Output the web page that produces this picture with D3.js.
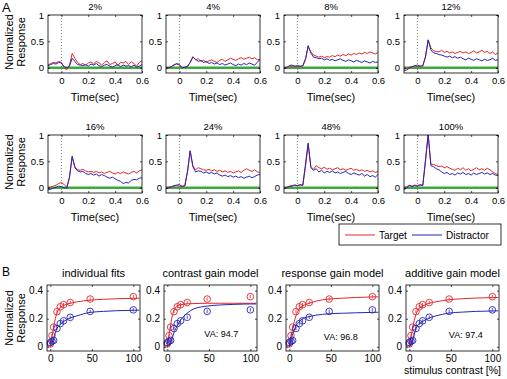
<!DOCTYPE html>
<meta charset="utf-8">
<style>
  body { margin: 0; background: #fff; }
  text { font-family: "Liberation Sans", Arial, sans-serif; fill: #000; }
</style>
<body>
<script src="https://d3js.org/d3.v7.min.js"></script>
<script>
  // ---- panel A: time courses ----
  var times = [-0.1, -0.08, -0.06, -0.04, -0.02, 0, 0.02, 0.04, 0.06, 0.08, 0.1, 0.12,
    0.14, 0.16, 0.18, 0.2, 0.22, 0.24, 0.26, 0.28, 0.3, 0.32, 0.34, 0.36,
    0.38, 0.4, 0.42, 0.44, 0.46, 0.48, 0.5, 0.52, 0.54, 0.56, 0.58, 0.6];

  var contrastLabels = ["2%", "4%", "8%", "12%", "16%", "24%", "48%", "100%"];

  var targetTraces = [
    [0.05,0.08,0.10,0.09,0.12,0.10,0.0,-0.04,0.05,0.27,0.18,0.10,0.06,0.08,0.04,0.09,0.11,0.07,0.12,0.09,0.05,0.10,0.13,0.06,0.08,0.11,0.04,0.10,0.09,0.12,0.06,0.11,0.08,0.03,0.10,0.13],
    [0.0,-0.01,0.02,0.06,0.07,0.05,0.0,0.01,0.03,0.10,0.21,0.15,0.17,0.12,0.14,0.10,0.13,0.15,0.12,0.10,0.14,0.16,0.12,0.15,0.18,0.16,0.14,0.17,0.19,0.16,0.18,0.20,0.17,0.19,0.15,0.16],
    [0.0,0.01,0.02,0.03,0.02,0.03,0.02,0.03,0.15,0.40,0.30,0.24,0.22,0.20,0.22,0.19,0.21,0.20,0.23,0.21,0.24,0.22,0.25,0.23,0.26,0.24,0.27,0.25,0.28,0.26,0.29,0.27,0.30,0.28,0.26,0.29],
    [-0.03,-0.01,0.01,0.02,0.03,0.02,0.03,0.03,0.2,0.52,0.38,0.32,0.31,0.30,0.33,0.29,0.31,0.28,0.30,0.27,0.29,0.31,0.28,0.30,0.27,0.29,0.32,0.28,0.30,0.33,0.29,0.31,0.27,0.30,0.25,0.28],
    [0.0,0.01,0.03,0.05,0.08,0.10,0.06,0.01,0.2,0.58,0.40,0.34,0.33,0.35,0.32,0.30,0.31,0.29,0.31,0.28,0.30,0.27,0.29,0.31,0.28,0.26,0.29,0.27,0.30,0.28,0.26,0.29,0.31,0.28,0.32,0.34],
    [0.0,0.01,0.02,0.03,0.04,0.03,0.02,0.03,0.3,0.70,0.42,0.34,0.38,0.36,0.34,0.33,0.35,0.32,0.34,0.31,0.33,0.30,0.32,0.29,0.31,0.28,0.30,0.32,0.29,0.33,0.36,0.33,0.31,0.34,0.30,0.29],
    [0.0,0.01,0.03,0.04,0.05,0.04,0.05,0.04,0.4,0.82,0.40,0.35,0.42,0.38,0.36,0.39,0.35,0.37,0.34,0.36,0.38,0.34,0.36,0.33,0.35,0.37,0.33,0.35,0.32,0.34,0.31,0.33,0.30,0.32,0.29,0.31],
    [0.0,0.02,0.04,0.03,0.05,0.04,0.06,0.05,0.5,1.0,0.45,0.44,0.42,0.40,0.41,0.38,0.40,0.37,0.35,0.33,0.37,0.34,0.38,0.33,0.36,0.32,0.35,0.38,0.34,0.36,0.33,0.37,0.34,0.30,0.27,0.25]
  ];

  var distractorTraces = [
    [0.04,0.06,0.08,0.07,0.10,0.09,0.02,0.0,0.03,0.18,0.12,0.06,0.05,0.04,0.06,0.03,0.07,0.05,0.08,0.04,0.02,0.05,0.06,0.03,0.01,0.04,0.06,0.02,0.05,0.03,0.04,0.02,0.05,0.01,0.03,0.06],
    [0.0,0.0,0.02,0.05,0.08,0.06,0.0,0.01,0.02,0.10,0.20,0.16,0.12,0.14,0.10,0.12,0.08,0.10,0.07,0.09,0.06,0.08,0.05,0.07,0.09,0.06,0.04,0.07,0.05,0.08,0.06,0.09,0.07,0.05,0.10,0.16],
    [-0.01,0.0,0.04,0.05,0.03,0.04,0.03,0.04,0.17,0.42,0.28,0.20,0.19,0.17,0.18,0.15,0.17,0.14,0.16,0.13,0.15,0.17,0.14,0.12,0.15,0.13,0.11,0.14,0.12,0.10,0.13,0.11,0.09,0.12,0.10,0.11],
    [-0.06,-0.04,-0.01,0.02,0.04,0.05,0.03,0.04,0.21,0.53,0.34,0.28,0.27,0.25,0.24,0.22,0.20,0.22,0.19,0.21,0.18,0.20,0.17,0.15,0.18,0.16,0.14,0.17,0.15,0.13,0.16,0.14,0.15,0.18,0.14,0.15],
    [-0.04,-0.03,-0.01,0.01,0.03,0.02,0.0,-0.01,0.2,0.60,0.38,0.32,0.30,0.31,0.27,0.25,0.27,0.24,0.26,0.22,0.25,0.23,0.20,0.18,0.20,0.17,0.14,0.12,0.08,0.10,0.09,0.14,0.16,0.15,0.18,0.19],
    [-0.02,0.0,0.02,0.04,0.05,0.06,0.03,0.04,0.31,0.70,0.40,0.30,0.32,0.31,0.28,0.30,0.27,0.29,0.26,0.28,0.24,0.22,0.24,0.21,0.23,0.20,0.22,0.19,0.21,0.18,0.20,0.22,0.19,0.21,0.24,0.25],
    [-0.01,0.0,0.02,0.03,0.05,0.04,0.06,0.05,0.45,0.85,0.38,0.33,0.36,0.30,0.33,0.28,0.31,0.29,0.32,0.28,0.30,0.27,0.29,0.31,0.27,0.25,0.28,0.26,0.24,0.27,0.22,0.25,0.21,0.23,0.20,0.25],
    [-0.03,-0.01,0.05,0.02,0.04,0.03,0.05,0.04,0.53,1.02,0.42,0.40,0.36,0.34,0.30,0.27,0.29,0.25,0.27,0.24,0.28,0.26,0.29,0.25,0.27,0.24,0.28,0.25,0.27,0.29,0.26,0.28,0.25,0.27,0.24,0.23]
  ];

  // ---- panel B: contrast response ----
  var contrasts = [0, 2, 4, 8, 12, 16, 24, 48, 100];
  var targetMeans = [0.02, 0.08, 0.14, 0.25, 0.285, 0.30, 0.315, 0.34, 0.357];
  var distractorMeans = [0.03, 0.04, 0.045, 0.13, 0.165, 0.185, 0.21, 0.252, 0.263];

  var fitX = [0, 2, 4, 6, 8, 12, 16, 24, 32, 48, 64, 80, 100, 107];
  var modelTitles = ["individual fits", "contrast gain model", "response gain model", "additive gain model"];
  var modelVA = [null, "VA: 94.7", "VA: 96.8", "VA: 97.4"];
  var targetFits = [
    [0.0, 0.07, 0.14, 0.20, 0.24, 0.28, 0.295, 0.31, 0.32, 0.332, 0.338, 0.342, 0.345, 0.346],
    [0.0, 0.08, 0.16, 0.22, 0.26, 0.29, 0.30, 0.306, 0.308, 0.31, 0.31, 0.31, 0.31, 0.31],
    [0.0, 0.07, 0.13, 0.18, 0.22, 0.27, 0.29, 0.31, 0.325, 0.34, 0.346, 0.351, 0.355, 0.356],
    [0.0, 0.07, 0.13, 0.19, 0.23, 0.275, 0.29, 0.31, 0.32, 0.335, 0.342, 0.347, 0.35, 0.351]
  ];
  var distractorFits = [
    [0.02, 0.03, 0.06, 0.10, 0.13, 0.16, 0.18, 0.205, 0.22, 0.245, 0.252, 0.257, 0.26, 0.261],
    [0.0, 0.01, 0.03, 0.06, 0.10, 0.15, 0.19, 0.24, 0.27, 0.29, 0.298, 0.302, 0.305, 0.305],
    [0.0, 0.05, 0.09, 0.12, 0.15, 0.18, 0.20, 0.215, 0.225, 0.235, 0.239, 0.242, 0.245, 0.246],
    [0.0, 0.02, 0.05, 0.09, 0.13, 0.165, 0.18, 0.205, 0.22, 0.24, 0.247, 0.252, 0.255, 0.256]
  ];

  var red = "#e3262b", blue = "#2626b4", green = "#3aaa3a";

  var svg = d3.select("body").append("svg")
    .attr("width", 507)
    .attr("height", 379);

  // frame with inward ticks on all four sides, labels only left/bottom
  function frame(g, x, y, w, h, xTicks, yTicks, xFmt, yFmt, fs) {
    g.append("rect")
      .attr("width", w).attr("height", h)
      .attr("fill", "none").attr("stroke", "#000").attr("stroke-width", 0.8);
    var axes = [
      [d3.axisBottom(x).tickValues(xTicks).tickFormat(xFmt).tickPadding(4), "translate(0," + h + ")"],
      [d3.axisTop(x).tickValues(xTicks).tickFormat(""), "translate(0,0)"],
      [d3.axisLeft(y).tickValues(yTicks).tickFormat(yFmt).tickPadding(4), "translate(0,0)"],
      [d3.axisRight(y).tickValues(yTicks).tickFormat(""), "translate(" + w + ",0)"]
    ];
    axes.forEach(function(a) {
      var ax = g.append("g")
        .attr("transform", a[1])
        .call(a[0].tickSizeInner(-2).tickSizeOuter(0));
      ax.attr("font-size", fs).attr("color", "#000");
      ax.select(".domain").remove();
      ax.selectAll(".tick line").attr("stroke-width", 0.7);
    });
  }

  // two-line rotated y label; baseline of first line at screen x = bx
  function yLabel(g, bx, cy) {
    var yl = g.append("text")
      .attr("transform", "translate(" + bx + "," + cy + ") rotate(-90)")
      .attr("text-anchor", "middle")
      .attr("font-size", 11);
    yl.append("tspan").attr("x", 0).attr("dy", 0).text("Normalized");
    yl.append("tspan").attr("x", 0).attr("dy", "1.05em").text("Response");
  }

  var lefts = [48, 166, 284, 404];
  var pw = 94;

  // ---------- A ----------
  var aTops = [15, 135], ah = 58;
  var xA = d3.scaleLinear().domain([-0.1, 0.6]).range([0, pw]);
  var yA = d3.scaleLinear().domain([-0.1, 1]).range([ah, 0]);
  var lineA = d3.line()
    .x(function(d) { return xA(d[0]); })
    .y(function(d) { return yA(d[1]); });

  svg.append("defs").append("clipPath").attr("id", "clipA")
    .append("rect").attr("width", pw).attr("height", ah);

  contrastLabels.forEach(function(lab, i) {
    var row = Math.floor(i / 4), col = i % 4;
    var g = svg.append("g")
      .attr("transform", "translate(" + lefts[col] + "," + aTops[row] + ")");

    var plot = g.append("g").attr("clip-path", "url(#clipA)");
    plot.append("line")
      .attr("x1", 0).attr("x2", pw)
      .attr("y1", yA(0)).attr("y2", yA(0))
      .attr("stroke", green).attr("stroke-width", 2.5);
    plot.append("line")
      .attr("x1", xA(0)).attr("x2", xA(0))
      .attr("y1", 0).attr("y2", ah)
      .attr("stroke", "#666").attr("stroke-width", 0.8)
      .attr("stroke-dasharray", "1,2");
    plot.append("path")
      .datum(times.map(function(t, k) { return [t, targetTraces[i][k]]; }))
      .attr("d", lineA)
      .attr("fill", "none").attr("stroke", red).attr("stroke-width", 1);
    plot.append("path")
      .datum(times.map(function(t, k) { return [t, distractorTraces[i][k]]; }))
      .attr("d", lineA)
      .attr("fill", "none").attr("stroke", blue).attr("stroke-width", 1);

    frame(g, xA, yA, pw, ah, [0, 0.2, 0.4, 0.6], [0, 0.5, 1],
      function(d) { return d; }, function(d) { return d; }, 9.5);

    g.append("text")
      .attr("x", pw / 2).attr("y", -5)
      .attr("text-anchor", "middle")
      .attr("font-size", 9.5)
      .text(lab);
    g.append("text")
      .attr("x", pw / 2).attr("y", ah + 28)
      .attr("text-anchor", "middle")
      .attr("font-size", 11)
      .text("Time(sec)");

    if (col === 0) yLabel(g, 13 - lefts[0], ah / 2 - 2);
  });

  svg.append("text").attr("x", 2).attr("y", 12).attr("font-size", 13).text("A");

  // legend
  var leg = svg.append("g").attr("transform", "translate(339,224)");
  leg.append("rect").attr("width", 162).attr("height", 21)
    .attr("fill", "#fff").attr("stroke", "#000").attr("stroke-width", 0.8);
  [["Target", red, 6], ["Distractor", blue, 73]].forEach(function(e) {
    leg.append("line")
      .attr("x1", e[2]).attr("x2", e[2] + 30)
      .attr("y1", 11).attr("y2", 11)
      .attr("stroke", e[1]).attr("stroke-width", 1);
    leg.append("text")
      .attr("x", e[2] + 34).attr("y", 14.5)
      .attr("font-size", 10)
      .text(e[0]);
  });

  // ---------- B ----------
  var bLefts = [47, 164, 286, 406];
  var bTop = 285, bh = 66, bw = 93;
  var xB = d3.scaleLinear().domain([-4, 108]).range([0, bw]);
  var yB = d3.scaleLinear().domain([-0.03, 0.44]).range([bh, 0]);
  var lineB = d3.line()
    .curve(d3.curveMonotoneX)
    .x(function(d) { return xB(d[0]); })
    .y(function(d) { return yB(d[1]); });

  modelTitles.forEach(function(title, m) {
    var g = svg.append("g")
      .attr("transform", "translate(" + bLefts[m] + "," + bTop + ")");

    [[targetFits[m], targetMeans, red], [distractorFits[m], distractorMeans, blue]].forEach(function(s) {
      g.append("path")
        .datum(fitX.map(function(c, k) { return [c, s[0][k]]; }))
        .attr("d", lineB)
        .attr("fill", "none").attr("stroke", s[2]).attr("stroke-width", 1);
      var pts = g.selectAll(null)
        .data(contrasts.map(function(c, k) { return [c, s[1][k]]; }))
        .enter();
      pts.append("line")
        .attr("x1", function(d) { return xB(d[0]); })
        .attr("x2", function(d) { return xB(d[0]); })
        .attr("y1", function(d) { return yB(d[1] + 0.012); })
        .attr("y2", function(d) { return yB(d[1] - 0.012); })
        .attr("stroke", s[2]).attr("stroke-width", 0.8);
      pts.append("circle")
        .attr("cx", function(d) { return xB(d[0]); })
        .attr("cy", function(d) { return yB(d[1]); })
        .attr("r", 3.3)
        .attr("fill", "none").attr("stroke", s[2]).attr("stroke-width", 0.9);
    });

    frame(g, xB, yB, bw, bh, [0, 50, 100], [0, 0.2, 0.4],
      function(d) { return d; }, function(d) { return d; }, 10);

    g.append("text")
      .attr("x", bw / 2).attr("y", -8)
      .attr("text-anchor", "middle")
      .attr("font-size", 11)
      .text(title);

    if (modelVA[m]) {
      g.append("text")
        .attr("x", xB([0, 65, 62, 68][m]))
        .attr("y", yB([0, 0.09, 0.07, 0.085][m]))
        .attr("dy", "0.35em")
        .attr("text-anchor", "middle")
        .attr("font-size", 9)
        .text(modelVA[m]);
    }

    if (m === 0) yLabel(g, 13 - bLefts[0], bh / 2);
    if (m === 3) {
      g.append("text")
        .attr("x", bw / 2).attr("y", bh + 23)
        .attr("text-anchor", "middle")
        .attr("font-size", 10.5)
        .text("stimulus contrast [%]");
    }
  });

  svg.append("text").attr("x", 2).attr("y", 276).attr("font-size", 12).text("B");
</script>
</body>
